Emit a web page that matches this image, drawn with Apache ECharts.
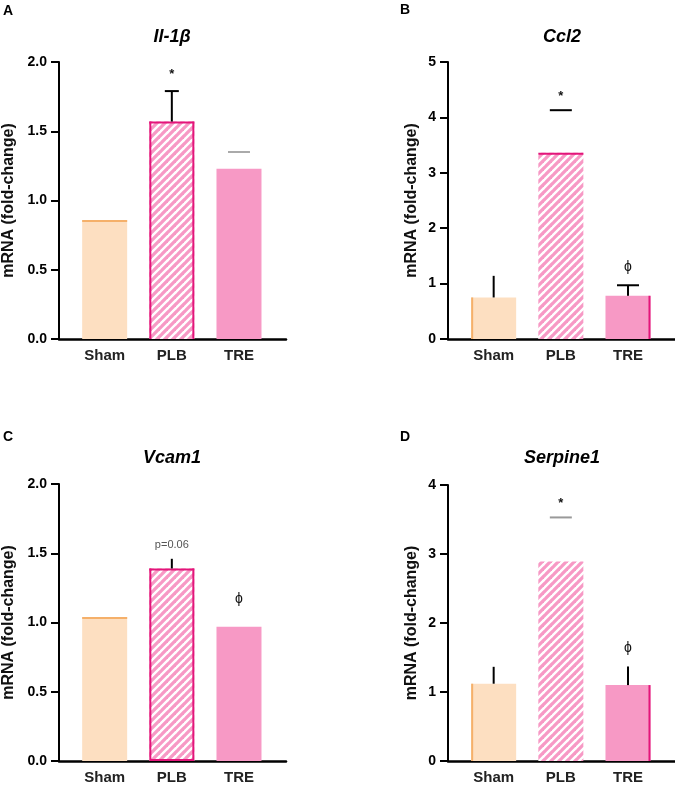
<!DOCTYPE html>
<html><head><meta charset="utf-8">
<script src="https://cdn.jsdelivr.net/npm/echarts@6/dist/echarts.min.js"></script>
<style>html,body{margin:0;padding:0;background:#fff}#c{width:675px;height:785px}</style>
</head><body><div id="c"></div>
<script>
// ---- data ----
const categories = ['Sham', 'PLB', 'TRE'];
const panelLetters = ['A', 'B', 'C', 'D'];
const geneTitles = ['Il-1β', 'Ccl2', 'Vcam1', 'Serpine1'];
const yAxisName = 'mRNA (fold-change)';
const valuesA = [0.86, 1.57, 1.23];
const valuesB = [0.75, 3.36, 0.78];
const valuesC = [1.04, 1.39, 0.97];
const valuesD = [1.12, 2.89, 1.10];
const errTopA = [null, 1.79, 1.35];
const errTopB = [1.14, 4.13, 0.97];
const errTopC = [null, 1.46, null];
const errTopD = [1.365, 3.53, 1.37];
const marksA = ['', '*', ''];
const marksB = ['', '*', 'ϕ'];
const marksC = ['', 'p=0.06', 'ϕ'];
const marksD = ['', '*', 'ϕ'];
const markAtA = [null, 1.91, null];
const markAtB = [null, 4.37, 1.30];
const markAtC = [null, 1.56, 1.17];
const markAtD = [null, 3.74, 1.63];
const yMaxes = [2, 5, 2, 4];
const ySteps = [0.5, 1, 0.5, 1];
const yDecimals = [1, 0, 1, 0];

const allValues = [valuesA, valuesB, valuesC, valuesD];
const allErr = [errTopA, errTopB, errTopC, errTopD];
const allMarks = [marksA, marksB, marksC, marksD];
const allMarkAt = [markAtA, markAtB, markAtC, markAtD];

// ---- styles / layout ----
const FONT = '"Liberation Sans", Arial, sans-serif';
const grids = [
  {left: 58, top: 62, width: 228, height: 277},
  {left: 448, top: 62, width: 227, height: 277},
  {left: 58, top: 484, width: 228, height: 278},
  {left: 448, top: 485, width: 227, height: 277}
];
const nameGaps = [42, 28, 42, 28];
const titlePos = [[172, 37], [562, 37], [172, 458], [562, 458]];
const letterPos = [[8, 11], [405, 10], [8, 437], [405, 437]];
const PEACH = '#FDDFC1', ORANGE = '#F5B06A', PINK = '#F799C5', DEEP = '#E3157A';
const edgeStyles = [
  [{top: ORANGE}, {left: DEEP, right: DEEP, top: DEEP}, {}],
  [{left: ORANGE}, {top: DEEP}, {right: DEEP}],
  [{top: ORANGE}, {left: DEEP, right: DEEP, top: DEEP, bottom: DEEP}, {}],
  [{left: ORANGE}, {}, {right: DEEP}]
];
const errStyles = [
  [null, {v: true, cap: 14, c: '#000'}, {v: false, cap: 22, c: '#aaa'}],
  [{v: true, cap: 0, c: '#000'}, {v: false, cap: 22, c: '#000'}, {v: true, cap: 22, c: '#000'}],
  [null, {v: true, cap: 0, c: '#000'}, null],
  [{v: true, cap: 0, c: '#000'}, {v: false, cap: 22, c: '#999'}, {v: true, cap: 0, c: '#000'}]
];
const BARW = 45;

// hatch pattern
const P = 8;
const pc = document.createElement('canvas');
pc.width = P; pc.height = P;
const g = pc.getContext('2d');
g.fillStyle = '#fff'; g.fillRect(0, 0, P, P);
g.strokeStyle = PINK; g.lineWidth = 3.3;
[[-P, P, P, -P], [0, P, P, 0], [0, 2 * P, 2 * P, 0]].forEach(l => {
  g.beginPath(); g.moveTo(l[0], l[1]); g.lineTo(l[2], l[3]); g.stroke();
});
const hatch = {image: pc, repeat: 'repeat'};
const fills = [PEACH, hatch, PINK];

const option = {
  animation: false,
  backgroundColor: '#fff',
  grid: grids.map(gr => Object.assign({containLabel: false}, gr)),
  xAxis: grids.map((gr, i) => ({
    type: 'value', gridIndex: i, min: 0.32, max: 3.7,
    axisLine: {show: true, lineStyle: {color: '#000', width: 2.5}},
    axisTick: {show: false},
    splitLine: {show: false},
    axisLabel: {
      customValues: [1, 2, 3], margin: 9,
      formatter: v => categories[Math.round(v) - 1] || '',
      fontFamily: FONT, fontWeight: 'bold', fontSize: 15, color: '#222'
    }
  })),
  yAxis: grids.map((gr, i) => ({
    type: 'value', gridIndex: i, min: 0, max: yMaxes[i], interval: ySteps[i],
    name: yAxisName, nameLocation: 'middle', nameGap: nameGaps[i],
    nameTextStyle: {fontFamily: FONT, fontWeight: 'bold', fontSize: 16, color: '#111'},
    axisLine: {show: true, lineStyle: {color: '#000', width: 2}},
    axisTick: {show: true, length: 8, lineStyle: {color: '#000', width: 2}},
    splitLine: {show: false},
    axisLabel: {
      margin: 12, formatter: v => v.toFixed(yDecimals[i]),
      fontFamily: FONT, fontWeight: 'bold', fontSize: 14, color: '#000'
    }
  })),
  graphic: [],
  series: []
};

geneTitles.forEach((t, i) => {
  option.graphic.push({type: 'text', x: titlePos[i][0], y: titlePos[i][1],
    style: {text: t, font: 'italic bold 18px ' + FONT, fill: '#000', textAlign: 'center', textVerticalAlign: 'middle'}});
  option.graphic.push({type: 'text', x: letterPos[i][0], y: letterPos[i][1],
    style: {text: panelLetters[i], font: 'bold 14px ' + FONT, fill: '#000', textAlign: 'center', textVerticalAlign: 'middle'}});
});

allValues.forEach((vals, i) => {
  // bars
  option.series.push({
    type: 'bar', xAxisIndex: i, yAxisIndex: i, barWidth: BARW, z: 2,
    data: vals.map((v, k) => ({value: [k + 1, v], itemStyle: {color: fills[k]}}))
  });
  // bar edges
  option.series.push({
    type: 'custom', xAxisIndex: i, yAxisIndex: i, z: 3, silent: true,
    data: vals.map((v, k) => [k + 1, v]),
    renderItem: (params, api) => {
      const k = params.dataIndex, e = edgeStyles[i][k];
      const top = api.coord([api.value(0), api.value(1)]);
      const base = api.coord([api.value(0), 0]);
      const x0 = top[0] - BARW / 2 + 1, x1 = top[0] + BARW / 2 - 1;
      const ch = [];
      const ln = (a, b, c, d, col) => ch.push({type: 'line', shape: {x1: a, y1: b, x2: c, y2: d}, style: {stroke: col, lineWidth: 2}});
      if (e.top) ln(x0 - 1, top[1] + 1, x1 + 1, top[1] + 1, e.top);
      if (e.left) ln(x0, top[1], x0, base[1], e.left);
      if (e.right) ln(x1, top[1], x1, base[1], e.right);
      if (e.bottom) ln(x0, base[1] - 1, x1, base[1] - 1, e.bottom);
      return {type: 'group', children: ch};
    }
  });
  // error bars
  option.series.push({
    type: 'custom', xAxisIndex: i, yAxisIndex: i, z: 4, silent: true,
    data: vals.map((v, k) => [k + 1, v, allErr[i][k] == null ? v : allErr[i][k], k]),
    renderItem: (params, api) => {
      const k = api.value(3), st = errStyles[i][k];
      if (!st) return null;
      const p0 = api.coord([api.value(0), api.value(1)]);
      const p1 = api.coord([api.value(0), api.value(2)]);
      const ch = [];
      if (st.v) ch.push({type: 'line', shape: {x1: p0[0], y1: p0[1], x2: p1[0], y2: p1[1]}, style: {stroke: st.c, lineWidth: 2}});
      if (st.cap) ch.push({type: 'line', shape: {x1: p1[0] - st.cap / 2, y1: p1[1], x2: p1[0] + st.cap / 2, y2: p1[1]}, style: {stroke: st.c, lineWidth: 2}});
      return {type: 'group', children: ch};
    }
  });
  // significance marks
  option.series.push({
    type: 'custom', xAxisIndex: i, yAxisIndex: i, z: 5, silent: true,
    data: vals.map((v, k) => [k + 1, allMarkAt[i][k] == null ? 0 : allMarkAt[i][k], k]),
    renderItem: (params, api) => {
      const k = api.value(2), txt = allMarks[i][k];
      if (!txt) return null;
      const p = api.coord([api.value(0), api.value(1)]);
      const f = txt.length > 2 ? 'normal 11px ' : (txt === '*' ? 'bold 13px ' : 'normal 14px ');
      return {type: 'text', style: {text: txt, x: p[0], y: p[1], textAlign: 'center', textVerticalAlign: 'middle',
        font: f + FONT, fill: txt.length > 2 ? '#555' : '#111'}};
    }
  });
});

const chart = echarts.init(document.getElementById('c'), null, {renderer: 'canvas'});
chart.setOption(option);
</script>
</body></html>
